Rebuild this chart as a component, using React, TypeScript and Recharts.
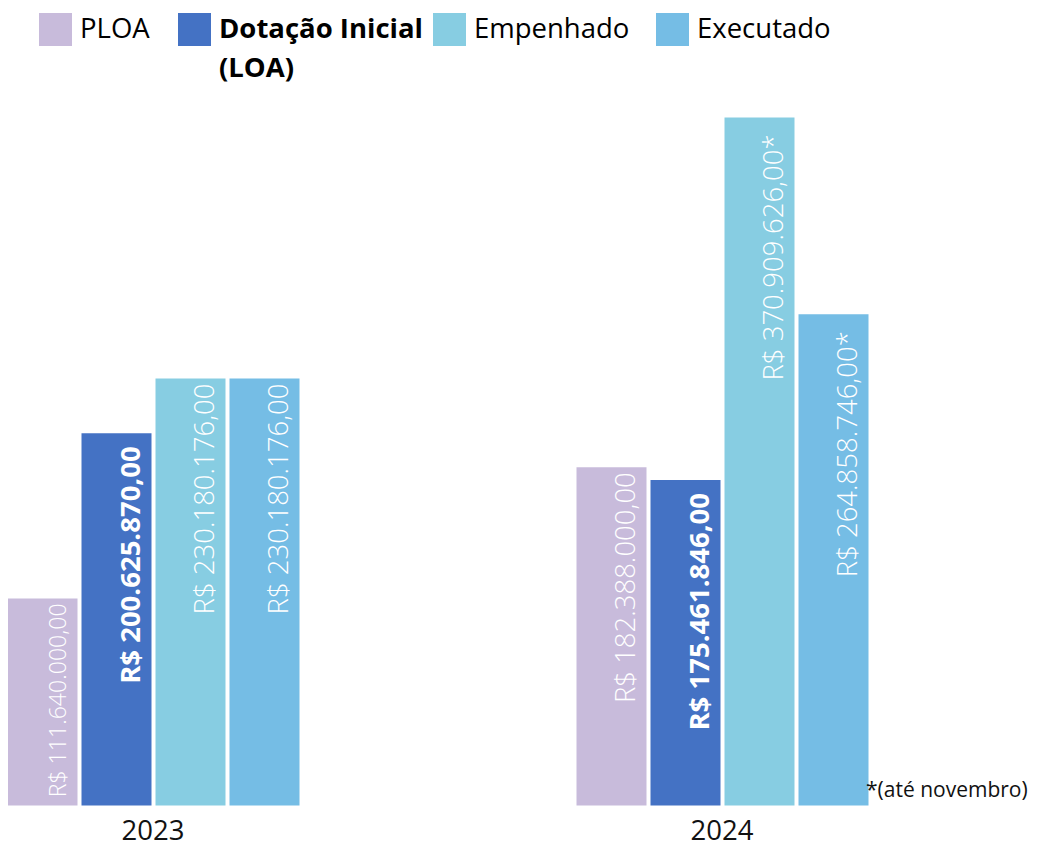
import { Bar, BarChart, LabelList, XAxis, YAxis } from "recharts";

const years = ["2023", "2024"];
const ploa = [111640000, 182388000];
const dotacao = [200625870, 175461846];
const empenhado = [230180176, 370909626];
const executado = [230180176, 264858746];
// "*" marks values counted only until november
const empenhadoNote = ["", "*"];
const executadoNote = ["", "*"];

const data = years.map((year, i) => ({
  year,
  ploa: ploa[i],
  dotacao: dotacao[i],
  empenhado: empenhado[i],
  executado: executado[i],
  empenhadoNote: empenhadoNote[i],
  executadoNote: executadoNote[i],
}));

const FONT = "'Open Sans', 'Noto Sans', sans-serif";

const series = [
  { key: "ploa", name: "PLOA", color: "#c8bbdb", bold: false },
  { key: "dotacao", name: "Dotação Inicial (LOA)", color: "#4472c4", bold: true },
  { key: "empenhado", name: "Empenhado", color: "#87cde2", bold: false },
  { key: "executado", name: "Executado", color: "#75bde5", bold: false },
];

function formatBRL(v: number) {
  const [int, dec] = v.toFixed(2).split(".");
  return "R$ " + int.replace(/\B(?=(\d{3})+(?!\d))/g, ".") + "," + dec;
}

function makeLabel(bold: boolean, noteKey?: string) {
  return (props: any) => {
    const { x, y, width, height, value, index } = props;
    const note = noteKey ? (data[index] as any)[noteKey] : "";
    const text = formatBRL(value) + note;
    // shrink the label when the bar is too short for it
    const size = Math.min(27.5, (height - 16) / 8.27);
    const offset = bold ? 13 : note ? 17 : 5;
    const tx = x + width - 11;
    const ty = y + offset;
    return (
      <text
        x={tx}
        y={ty}
        transform={`rotate(-90, ${tx}, ${ty})`}
        textAnchor="end"
        fill="#ffffff"
        fontFamily={FONT}
        fontSize={size}
        fontWeight={bold ? 700 : 300}
      >
        {text}
      </text>
    );
  };
}

const YearTick = (props: any) => {
  const { x, y, payload } = props;
  return (
    <text x={x} y={y} dy={26} textAnchor="middle" fill="#111" fontFamily={FONT} fontSize={27.5}>
      {payload.value}
    </text>
  );
};

const legendLeft = [31, 170, 425, 648];

export default function App() {
  return (
    <div style={{ position: "relative", width: 1021, height: 845, fontFamily: FONT }}>
      <BarChart
        width={1021}
        height={845}
        data={data}
        margin={{ top: 55.5, right: 22.5, bottom: 10, left: -139.5 }}
        barSize={70}
        barGap={4}
      >
        <XAxis
          dataKey="year"
          axisLine={false}
          tickLine={false}
          height={37.5}
          tick={<YearTick />}
          interval={0}
        />
        <YAxis hide domain={[0, 400000000]} />
        {series.map(s => (
          <Bar key={s.key} dataKey={s.key} name={s.name} fill={s.color} isAnimationActive={false}>
            <LabelList
              dataKey={s.key}
              content={makeLabel(
                s.bold,
                s.key === "empenhado" ? "empenhadoNote" : s.key === "executado" ? "executadoNote" : undefined
              )}
            />
          </Bar>
        ))}
      </BarChart>

      {series.map((s, i) => (
        <div key={s.key} style={{ position: "absolute", left: legendLeft[i], top: 0, display: "flex" }}>
          <div style={{ width: 33, height: 33, marginTop: 5, background: s.color, flexShrink: 0 }} />
          <div
            style={{
              marginLeft: 8,
              fontSize: 27.5,
              lineHeight: "39px",
              color: "#000",
              fontWeight: s.bold ? 700 : 400,
            }}
          >
            {s.bold ? (
              <>
                Dotação Inicial
                <br />
                (LOA)
              </>
            ) : (
              s.name
            )}
          </div>
        </div>
      ))}

      <div
        style={{
          position: "absolute",
          left: 858,
          top: 766,
          fontSize: 21,
          lineHeight: "30px",
          color: "#111",
          whiteSpace: "nowrap",
        }}
      >
        *(até novembro)
      </div>
    </div>
  );
}
